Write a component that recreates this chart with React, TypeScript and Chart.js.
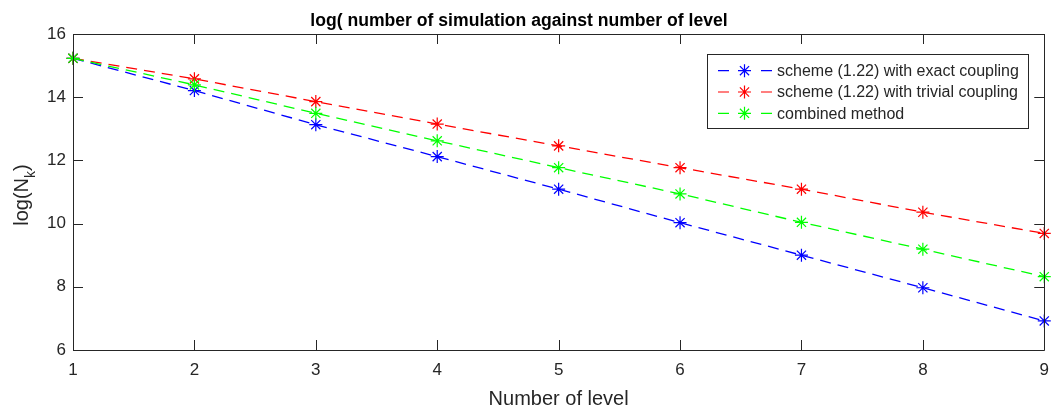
import React, { useEffect, useRef } from 'react';
import { Chart, registerables } from 'chart.js';

Chart.register(...registerables);

const levels = [1, 2, 3, 4, 5, 6, 7, 8, 9];
const exactCoupling = [15.23, 14.21, 13.13, 12.12, 11.09, 10.03, 9.0, 7.97, 6.92];
const trivialCoupling = [15.23, 14.58, 13.86, 13.15, 12.46, 11.77, 11.09, 10.36, 9.69];
const combinedMethod = [15.23, 14.39, 13.49, 12.62, 11.77, 10.94, 10.04, 9.19, 8.32];
const seriesLabels = [
  'scheme (1.22) with exact coupling',
  'scheme (1.22) with trivial coupling',
  'combined method',
];
const seriesColors = ['#0000ff', '#ff0000', '#00ff00'];
const titleText = 'log( number of simulation against number of level';
const xLabel = 'Number of level';
const yLabelMain = 'log(N';
const yLabelSub = 'k';
const yLabelEnd = ')';

const FONT = "'Liberation Sans', Arial, Helvetica, sans-serif";
const AXIS = '#262626';

function drawStar(ctx: CanvasRenderingContext2D, x: number, y: number, r: number) {
  const d = r * Math.SQRT1_2;
  ctx.beginPath();
  ctx.moveTo(x - r, y); ctx.lineTo(x + r, y);
  ctx.moveTo(x, y - r); ctx.lineTo(x, y + r);
  ctx.moveTo(x - d, y - d); ctx.lineTo(x + d, y + d);
  ctx.moveTo(x - d, y + d); ctx.lineTo(x + d, y - d);
  ctx.stroke();
}

const matlabPlugin = {
  id: 'matlabDecor',
  afterDatasetsDraw(chart: any) {
    const ctx: CanvasRenderingContext2D = chart.ctx;
    const { left, right, top, bottom } = chart.chartArea;
    const xs = chart.scales.x;
    const ys = chart.scales.y;
    ctx.save();
    ctx.strokeStyle = AXIS;
    ctx.lineWidth = 1;
    ctx.setLineDash([]);
    // box
    ctx.beginPath();
    ctx.rect(Math.round(left) + 0.5, Math.round(top) + 0.5, Math.round(right - left), Math.round(bottom - top));
    ctx.stroke();
    // ticks (inward, mirrored)
    const tl = 10;
    ctx.beginPath();
    xs.ticks.forEach((t: any) => {
      const px = Math.round(xs.getPixelForValue(t.value)) + 0.5;
      ctx.moveTo(px, bottom); ctx.lineTo(px, bottom - tl);
      ctx.moveTo(px, top); ctx.lineTo(px, top + tl);
    });
    ys.ticks.forEach((t: any) => {
      const py = Math.round(ys.getPixelForValue(t.value)) + 0.5;
      ctx.moveTo(left, py); ctx.lineTo(left + tl, py);
      ctx.moveTo(right, py); ctx.lineTo(right - tl, py);
    });
    ctx.stroke();

    // legend
    const lx = 707, ly = 54, lw = 321, lh = 74;
    ctx.fillStyle = '#ffffff';
    ctx.fillRect(lx, ly, lw, lh);
    ctx.strokeStyle = AXIS;
    ctx.lineWidth = 1;
    ctx.strokeRect(lx + 0.5, ly + 0.5, lw, lh);
    const rows = [70.7, 92, 113.3];
    ctx.font = `16px ${FONT}`;
    ctx.textBaseline = 'middle';
    ctx.textAlign = 'left';
    chart.data.datasets.forEach((ds: any, i: number) => {
      const y = rows[i];
      ctx.strokeStyle = ds.borderColor;
      ctx.lineWidth = 1.2;
      ctx.beginPath();
      ctx.moveTo(718, y); ctx.lineTo(729, y);
      ctx.moveTo(761, y); ctx.lineTo(772, y);
      ctx.stroke();
      drawStar(ctx, 744.5, y, 6.5);
      ctx.fillStyle = AXIS;
      ctx.fillText(ds.label, 777, y + 1);
    });

    // title
    ctx.fillStyle = '#000000';
    ctx.font = `bold 17.6px ${FONT}`;
    ctx.textAlign = 'center';
    ctx.textBaseline = 'alphabetic';
    ctx.fillText(titleText, 519, 26);

    // x label
    ctx.fillStyle = AXIS;
    ctx.font = `20px ${FONT}`;
    ctx.fillText(xLabel, (left + right) / 2, 405);

    // y label with subscript
    ctx.save();
    ctx.translate(28, 195);
    ctx.rotate(-Math.PI / 2);
    ctx.textAlign = 'left';
    ctx.font = `20px ${FONT}`;
    const w1 = ctx.measureText(yLabelMain).width;
    const w3 = ctx.measureText(yLabelEnd).width;
    ctx.font = `14px ${FONT}`;
    const w2 = ctx.measureText(yLabelSub).width;
    const total = w1 + w2 + w3;
    let x0 = -total / 2;
    ctx.font = `20px ${FONT}`;
    ctx.fillText(yLabelMain, x0, 0);
    x0 += w1;
    ctx.font = `14px ${FONT}`;
    ctx.fillText(yLabelSub, x0, 7);
    x0 += w2;
    ctx.font = `20px ${FONT}`;
    ctx.fillText(yLabelEnd, x0, 0);
    ctx.restore();

    ctx.restore();
  },
};

export default function App() {
  const canvasRef = useRef<HTMLCanvasElement | null>(null);

  useEffect(() => {
    const canvas = canvasRef.current;
    if (!canvas) return;
    const makeData = (vals: number[]) => levels.map((x, i) => ({ x, y: vals[i] }));
    const seriesValues = [exactCoupling, trivialCoupling, combinedMethod];
    const chart = new Chart(canvas, {
      type: 'line',
      data: {
        datasets: seriesValues.map((vals, i) => ({
          label: seriesLabels[i],
          data: makeData(vals),
          borderColor: seriesColors[i],
          backgroundColor: seriesColors[i],
          pointBorderColor: seriesColors[i],
          borderWidth: 1.3,
          borderDash: [11, 7],
          pointStyle: 'star',
          pointRadius: 6.5,
          pointBorderWidth: 1.2,
          fill: false,
          tension: 0,
          clip: false,
          order: 3 - i,
        })),
      },
      options: {
        animation: false,
        responsive: false,
        maintainAspectRatio: false,
        events: [],
        layout: { padding: { top: 34, right: 13, left: 0, bottom: 0 } },
        plugins: {
          legend: { display: false },
          title: { display: false },
          tooltip: { enabled: false },
        },
        scales: {
          x: {
            type: 'linear',
            min: 1,
            max: 9,
            grid: { display: false, drawTicks: false },
            border: { display: false },
            ticks: {
              stepSize: 1,
              color: AXIS,
              font: { family: FONT, size: 17 },
              padding: 10,
              maxRotation: 0,
            },
            afterFit: (scale: any) => { scale.height = 61; },
          },
          y: {
            type: 'linear',
            min: 6,
            max: 16,
            grid: { display: false, drawTicks: false },
            border: { display: false },
            ticks: {
              stepSize: 2,
              color: AXIS,
              font: { family: FONT, size: 17 },
              padding: 7,
            },
            afterFit: (scale: any) => { scale.width = 73; },
          },
        },
      },
      plugins: [matlabPlugin],
    });
    return () => chart.destroy();
  }, []);

  return (
    <div style={{ position: 'absolute', left: 0, top: 0, width: 1059, height: 411, background: '#fff' }}>
      <canvas ref={canvasRef} width={1059} height={411} style={{ width: 1059, height: 411, display: 'block' }} />
    </div>
  );
}
